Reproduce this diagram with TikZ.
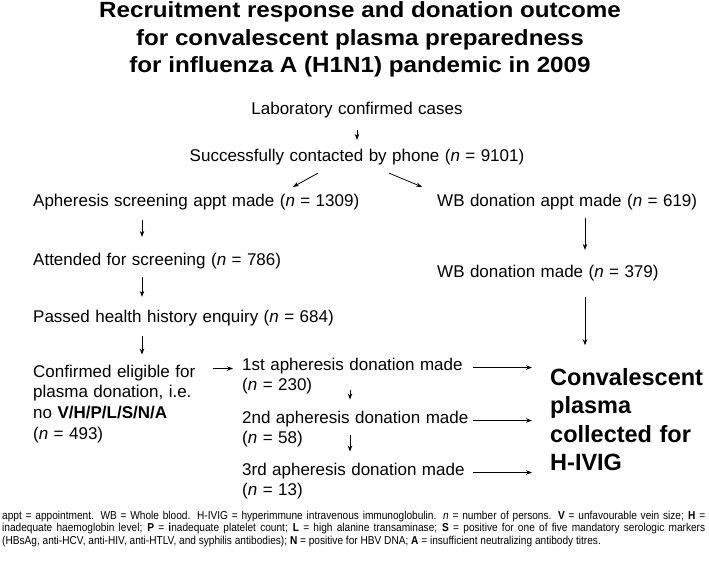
\documentclass[tikz,border=0pt]{standalone}
\usepackage{fontspec}
\setmainfont{Liberation Sans}[WordSpace=1.15]
\newfontfamily\headfont{Liberation Sans}[FakeStretch=1.1]
\newfontfamily\notefont{Liberation Sans}[FakeStretch=0.88]
\usetikzlibrary{arrows.meta}

\begin{document}
\begin{tikzpicture}[x=1pt,y=-1pt,
 t/.style={inner sep=0pt,anchor=west,align=left,font=\fontsize{17}{20.7}\selectfont},
 a/.style={-{Stealth[length=6pt,width=4.5pt]},line width=0.8pt}]
 \useasboundingbox (0,0) rectangle (709,560);
 \node[inner sep=0pt,align=center,font=\headfont\bfseries\fontsize{22}{27.5}\selectfont] (title) at (360,39.5) {Recruitment response and donation outcome\\ for convalescent plasma preparedness\\ for influenza A (H1N1) pandemic in 2009};
 \node[t,anchor=center] (lab) at (357,110) {Laboratory confirmed cases};
 \node[t,anchor=center] (phone) at (357,157) {Successfully contacted by phone (\textit{n} = 9101)};
 \node[t] (aph) at (33,202) {Apheresis screening appt made (\textit{n} = 1309)};
 \node[t] (wbappt) at (437,202) {WB donation appt made (\textit{n} = 619)};
 \node[t] (attend) at (33,261) {Attended for screening (\textit{n} = 786)};
 \node[t] (wbmade) at (437,273) {WB donation made (\textit{n} = 379)};
 \node[t] (passed) at (33,318) {Passed health history enquiry (\textit{n} = 684)};
 \node[t] (elig) at (33,403.7) {Confirmed eligible for\\ plasma donation, i.e.\\ no \textbf{V/H/P/L/S/N/A}\\ (\textit{n} = 493)};
 \node[t] (don1) at (242,376) {1st apheresis donation made\\ (\textit{n} = 230)};
 \node[t] (don2) at (242,429) {2nd apheresis donation made\\ (\textit{n} = 58)};
 \node[t] (don3) at (242,481) {3rd apheresis donation made\\ (\textit{n} = 13)};
 \node[t,font=\bfseries\fontsize{23.5}{28.3}\selectfont] (conv) at (550,419.5) {Convalescent\\ plasma\\ collected for\\ H-IVIG};
 \node[t,text width=703pt,align=justify,font=\notefont\fontsize{11.5}{12.4}\selectfont] (note) at (2,529) {appt = appointment. WB = Whole blood. H-IVIG = hyperimmune intravenous immunoglobulin. \textit{n} = number of persons. \textbf{V} = unfavourable vein size; \textbf{H} =\linebreak inadequate haemoglobin level; \textbf{P} = \textbf{i}nadequate platelet count; \textbf{L} = high alanine transaminase; \textbf{S} = positive for one of five mandatory serologic markers\linebreak (HBsAg, anti-HCV, anti-HIV, anti-HTLV, and syphilis antibodies); \textbf{N} = positive for HBV DNA; \textbf{A} = insufficient neutralizing antibody titres.};
 % arrows
 \draw[a] ([yshift=-12pt]lab.south) -- ([yshift=9pt]phone.north);
 \draw[a] ([xshift=-39pt,yshift=-8pt]phone.south) -- ([xshift=260pt,yshift=7pt]aph.north west);
 \draw[a] ([xshift=32pt,yshift=-8pt]phone.south) -- ([xshift=-15pt,yshift=7pt]wbappt.north west);
 \draw[a] ([xshift=109pt,yshift=-10pt]aph.south west) -- ([xshift=109pt,yshift=16pt]attend.north west);
 \draw[a] ([xshift=109pt,yshift=-8pt]attend.south west) -- ([xshift=109pt,yshift=13pt]passed.north west);
 \draw[a] ([xshift=109pt,yshift=-10pt]passed.south west) -- ([xshift=109pt,yshift=10pt]elig.north west);
 \draw[a] ([xshift=148pt,yshift=-8pt]wbappt.south west) -- ([xshift=148pt,yshift=15pt]wbmade.north west);
 \draw[a] ([xshift=148pt,yshift=-16pt]wbmade.south west) -- ([xshift=35pt,yshift=23pt]conv.north west);
 \draw[a] ([xshift=180pt,yshift=-4pt]elig.north west) -- ([xshift=-9pt,yshift=-11pt]don1.north west);
 \draw[a] ([xshift=108pt,yshift=4pt]don1.south west) -- ([xshift=108pt,yshift=11pt]don2.north west);
 \draw[a] ([xshift=108pt,yshift=12pt]don2.south west) -- ([xshift=108pt,yshift=11pt]don3.north west);
 \coordinate (r1) at ([yshift=-10pt]don1.north west);
 \coordinate (r2) at ([yshift=-10pt]don2.north west);
 \coordinate (r3) at ([yshift=-10pt]don3.north west);
 \draw[a,shorten >=18pt] ([xshift=231pt]r1) -- (r1 -| conv.west);
 \draw[a,shorten >=18pt] ([xshift=231pt]r2) -- (r2 -| conv.west);
 \draw[a,shorten >=18pt] ([xshift=231pt]r3) -- (r3 -| conv.west);
\end{tikzpicture}
\end{document}
